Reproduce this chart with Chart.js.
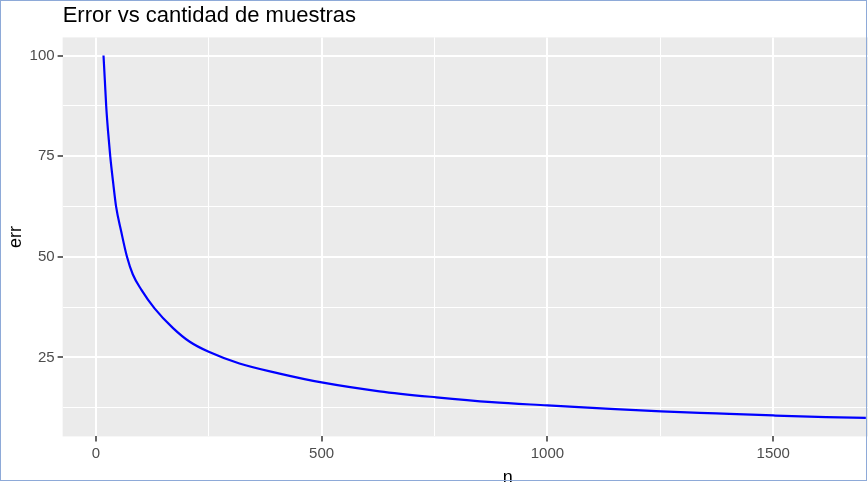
<!DOCTYPE html>
<html>
<head>
<meta charset="utf-8">
<script src="https://cdn.jsdelivr.net/npm/chart.js@4"></script>
<style>
  html, body { margin: 0; padding: 0; background: #fff; overflow: hidden; }
  #wrap { position: relative; width: 868px; height: 482px; overflow: hidden; }
  #frame { position: absolute; left: 0; top: 0; width: 867px; height: 481px; box-sizing: border-box; border: 1px solid #8eaad8; pointer-events: none; }
</style>
</head>
<body>
<div id="wrap">
  <canvas id="errChart" width="962" height="491"></canvas>
  <div id="frame"></div>
</div>
<script>
// values
const nValues = [17, 20, 23, 27, 32, 38, 45, 56, 69, 82, 101, 130, 171, 208, 250, 318, 407, 500, 628, 754, 877, 1000, 1129, 1252, 1374, 1500, 1617, 1705];
const errValues = [100, 93.8, 87.4, 81.3, 74.9, 68.8, 62.4, 56.4, 50, 45.6, 41.8, 37.2, 32.3, 28.9, 26.4, 23.5, 21.0, 18.8, 16.6, 15.1, 13.9, 13.1, 12.3, 11.6, 11.1, 10.6, 10.2, 10.0];

const xMajor = [0, 500, 1000, 1500];
const xMinor = [250, 750, 1250, 1750];
const yMajor = [25, 50, 75, 100];
const yMinor = [12.5, 37.5, 62.5, 87.5];

const fontFam = "'Liberation Sans', Arial, sans-serif";

const panelBg = {
    id: "panelBg",
    beforeDraw(chart) {
        const { ctx, chartArea: a } = chart;
        ctx.save();
        ctx.fillStyle = "#ebebeb";
        ctx.fillRect(a.left, a.top, a.right - a.left, a.bottom - a.top);
        ctx.restore();
    }
};

function gridScale(major, minor, min, max, title, titlePad) {
    return {
        type: "linear",
        min, max,
        afterBuildTicks: axis => {
            axis.ticks = major.concat(minor).sort((a, b) => a - b).map(v => ({ value: v }));
        },
        ticks: {
            autoSkip: false,
            maxRotation: 0,
            padding: 3,
            color: "#4d4d4d",
            font: { family: fontFam, size: 15 },
            callback: v => major.includes(v) ? String(v) : ""
        },
        grid: {
            color: "#ffffff",
            lineWidth: c => major.includes(c.tick.value) ? 2 : 1,
            tickColor: c => major.includes(c.tick.value) ? "#333333" : "rgba(0,0,0,0)",
            tickLength: 5,
            tickWidth: 1.5
        },
        border: { display: false },
        title: {
            display: true,
            text: title,
            color: "#000000",
            font: { family: fontFam, size: 18 },
            padding: titlePad
        }
    };
}

const errChart = new Chart(
    document.getElementById("errChart"), {
        type: "line",
        data: {
            datasets: [{
                label: "err",
                data: nValues.map((n, i) => ({ x: n, y: errValues[i] })),
                borderColor: "#0000ff",
                borderWidth: 2.2,
                pointRadius: 0,
                cubicInterpolationMode: "monotone",
                fill: false
            }]
        },
        options: {
            responsive: false,
            animation: false,
            layout: { padding: { left: 1, right: 9, top: 0, bottom: 0 } },
            plugins: {
                legend: { display: false },
                tooltip: { enabled: false },
                title: {
                    display: true,
                    text: "Error vs cantidad de muestras",
                    align: "start",
                    fullSize: false,
                    color: "#000000",
                    font: { family: fontFam, size: 22, weight: "normal" },
                    padding: { top: 3, bottom: 8 }
                }
            },
            scales: {
                x: gridScale(xMajor, xMinor, -73.5, 1898, "n", { top: 2, bottom: 2 }),
                y: gridScale(yMajor, yMinor, 5.4, 104.5, "err", { top: 4, bottom: 0 })
            }
        },
        plugins: [panelBg]
    }
);
</script>
</body>
</html>
